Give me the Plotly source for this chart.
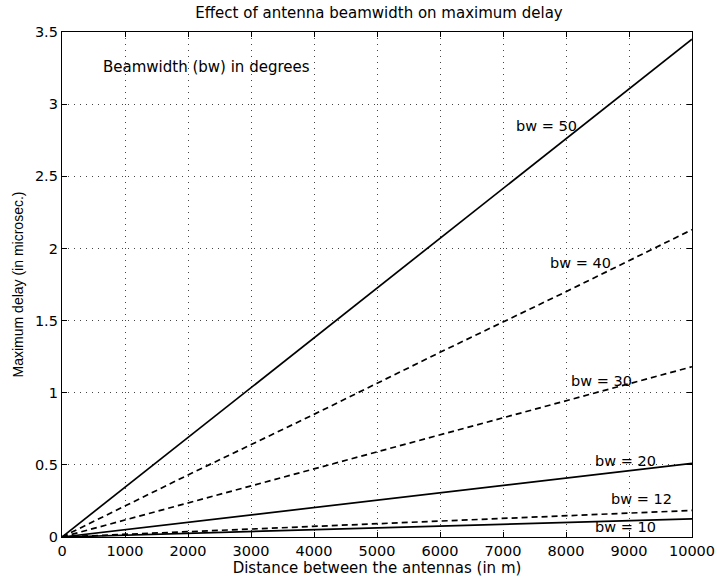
import plotly.graph_objects as go

# Data (delay in microseconds vs distance in m)
distance = [0, 2000, 4000, 6000, 8000, 10000]
bw_labels = ["bw = 50", "bw = 40", "bw = 30", "bw = 20", "bw = 12", "bw = 10"]
delay_bw50 = [0, 0.69, 1.38, 2.07, 2.76, 3.45]
delay_bw40 = [0, 0.43, 0.85, 1.28, 1.70, 2.13]
delay_bw30 = [0, 0.236, 0.472, 0.708, 0.944, 1.18]
delay_bw20 = [0, 0.102, 0.204, 0.306, 0.408, 0.51]
delay_bw12 = [0, 0.037, 0.074, 0.11, 0.147, 0.184]
delay_bw10 = [0, 0.025, 0.05, 0.076, 0.101, 0.126]
series = [delay_bw50, delay_bw40, delay_bw30, delay_bw20, delay_bw12, delay_bw10]
dashes = ["solid", "6px,4px", "6px,4px", "solid", "6px,4px", "solid"]

label_x = [7698, 8238, 8556, 8937, 9206, 8937]
label_y = [2.85, 1.90, 1.08, 0.528, 0.264, 0.069]

x_ticks = list(range(0, 10001, 1000))
y_ticks = [0, 0.5, 1, 1.5, 2, 2.5, 3, 3.5]
y_ticktext = ["0", "0.5", "1", "1.5", "2", "2.5", "3", "3.5"]

font = "DejaVu Sans, sans-serif"

fig = go.Figure()
for vals, d in zip(series, dashes):
    fig.add_trace(go.Scatter(x=distance, y=vals, mode="lines",
                             line=dict(color="black", width=1.7, dash=d),
                             showlegend=False, hoverinfo="skip"))

for t, lx, ly in zip(bw_labels, label_x, label_y):
    fig.add_annotation(x=lx, y=ly, text=t, showarrow=False,
                       font=dict(size=14.5, color="black", family=font),
                       xanchor="center", yanchor="middle")

fig.add_annotation(x=619, y=3.26, text="Beamwidth (bw) in degrees", showarrow=False,
                   font=dict(size=15, color="black", family=font),
                   xanchor="left", yanchor="middle")

axis_common = dict(showline=True, linecolor="black", linewidth=1.3, mirror="ticks",
                   ticks="inside", ticklen=5, tickcolor="black", tickwidth=1.2,
                   showgrid=True, gridcolor="#444", gridwidth=1, griddash="1px,5px",
                   zeroline=False, ticklabeloverflow="allow", automargin=False,
                   tickfont=dict(size=14.5, color="black", family=font))

fig.update_xaxes(range=[0, 10000], tickvals=x_ticks, ticktext=[str(v) for v in x_ticks],
                 title=dict(text="Distance between the antennas (in m)", standoff=2,
                            font=dict(size=15, color="black", family=font)),
                 **axis_common)
fig.update_yaxes(range=[0, 3.5], tickvals=y_ticks, ticktext=y_ticktext,
                 title=dict(text="Maximum delay (in microsec.)", standoff=7,
                            font=dict(size=14, color="black", family="Liberation Sans, Arial, sans-serif")),
                 **axis_common)

fig.update_layout(
    width=717, height=581,
    margin=dict(l=62, r=25, t=32, b=44, autoexpand=False),
    paper_bgcolor="white", plot_bgcolor="white",
    title=dict(text="Effect of antenna beamwidth on maximum delay", x=379 / 717, xanchor="center",
               xref="container", yref="container", y=1 - 13 / 581, yanchor="middle",
               font=dict(size=15, color="black", family=font)),
)

fig.write_html("out.html")
